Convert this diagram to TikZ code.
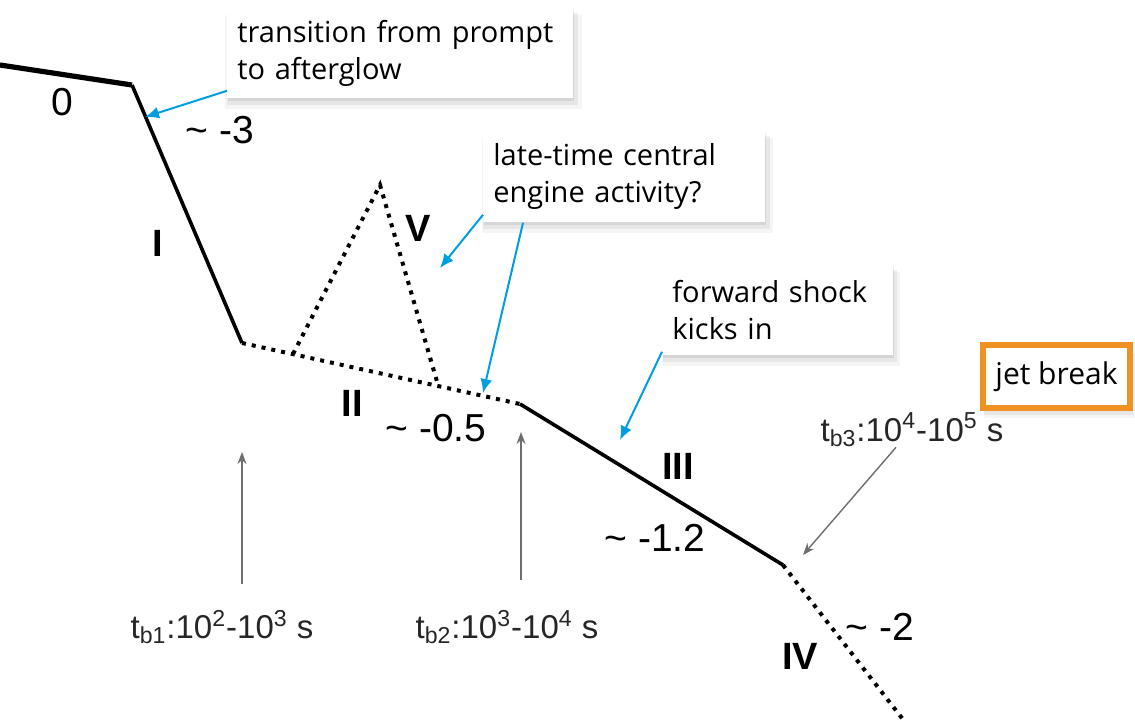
\documentclass[tikz,border=0pt]{standalone}
\usepackage{fontspec}
\setmainfont{Liberation Sans}
\newfontfamily\notefont{Open Sans}
\usepackage{tikz}
\usetikzlibrary{positioning,arrows.meta,shadows}
\definecolor{notecolor}{RGB}{0,158,224}
\definecolor{jetcolor}{RGB}{240,145,35}
\definecolor{tickcolor}{RGB}{110,110,110}
\tikzset{
  softshadow/.style={
    general shadow={fill=black, opacity=0.04, shadow xshift=1.5pt, shadow yshift=-4.5pt, shadow scale=1.03},
    general shadow={fill=black, opacity=0.06, shadow xshift=1pt, shadow yshift=-3pt, shadow scale=1.015},
    general shadow={fill=black, opacity=0.08, shadow xshift=0.5pt, shadow yshift=-1.5pt}},
  note/.style={fill=white, anchor=north west, align=left, inner xsep=5pt, inner ysep=0pt,
    font=\notefont\fontsize{14.5}{18.5}\selectfont, softshadow},
  jetnote/.style={draw=jetcolor, line width=3pt, fill=white, minimum width=73.5pt, minimum height=31.5pt,
    font=\notefont\fontsize{15}{18.5}\selectfont, softshadow},
  seg/.style={line width=1.8pt},
  segdot/.style={line width=2pt, dash pattern=on 2pt off 3pt},
  slope/.style={font=\fontsize{19.5}{21}\selectfont, inner sep=1pt},
  phase/.style={font=\fontsize{19}{21}\selectfont\bfseries, inner sep=1pt},
  tlbl/.style={font=\fontsize{16.5}{19}\selectfont, text=black!85, inner sep=1pt},
  tick/.style={-{Stealth[length=6pt,width=4.5pt]}, draw=tickcolor, line width=0.7pt},
  callout/.style={-{Latex[length=7pt,width=6pt]}, draw=notecolor, line width=1pt},
}

\begin{document}
\begin{tikzpicture}[x=0.5pt, y=-0.5pt]
\useasboundingbox (0,0) rectangle (1135,728);
% light curve break points
\coordinate (p0) at (0,65);
\coordinate (p1) at (132,85);
\coordinate (p2) at (242,343);
\coordinate (p3) at (520,404);
\coordinate (p4) at (783,565);
\coordinate (p5) at (905,722);
\coordinate (v0) at (293,354);
\coordinate (v1) at (380,185);
\coordinate (v2) at (438,385);

\draw[line width=2.6pt] (p0) -- (p1);
\draw[seg] (p1) -- (p2);
\draw[segdot] (p2) -- (p3);
\draw[seg] (p3) -- (p4);
\draw[segdot] (p4) -- (p5);
\draw[segdot] (v0) -- (v1) -- (v2);

\node[slope] (s0) at (62,102) {0};
\node[slope] (s1) at (220,130) {\textasciitilde\ -3};
\node[slope] (s2) at (436,428) {\textasciitilde\ -0.5};
\node[slope] (s3) at (655,538) {\textasciitilde\ -1.2};
\node[slope] (s4) at (880,627) {\textasciitilde\ -2};
\node[phase] (ph1) at (158,243) {I};
\node[phase] (ph2) at (352,403) {II};
\node[phase] (ph3) at (678,466) {III};
\node[phase] (ph4) at (800,656) {IV};
\node[phase] (ph5) at (418,228) {V};

% break times
\node[tlbl] (tb1) at (222,627) {t\textsubscript{b1}:10\textsuperscript{2}-10\textsuperscript{3} s};
\node[tlbl] (tb2) at (507,627) {t\textsubscript{b2}:10\textsuperscript{3}-10\textsuperscript{4} s};
\node[tlbl] (tb3) at (912,430) {t\textsubscript{b3}:10\textsuperscript{4}-10\textsuperscript{5} s};
\coordinate (tb1tip) at (242,452);
\coordinate (tb2tip) at (521,432);
\coordinate (tb3tip) at (803,555);
\draw[tick, shorten <=12pt] (tb1.north -| tb1tip) -- (tb1tip);
\draw[tick, shorten <=14pt] (tb2.north -| tb2tip) -- (tb2tip);
\draw[tick] ([xshift=-8pt,yshift=1pt]tb3.south) -- (tb3tip);

% callouts
\node[note, text width=163pt, minimum height=45.5pt] (prompt) at (227,7) {transition from prompt\\to afterglow};
\node[note, text width=131pt, minimum height=46pt] (engine) at (483,130) {late-time central\\engine activity?};
\node[note, text width=105.5pt, minimum height=45.5pt] (fwd) at (662,264) {forward shock\\kicks in};
\node[jetnote] (jet) at (1056.5,376.5) {jet break};

\coordinate (promptTip) at (145,117);
\coordinate (flareTip) at (440,268);
\coordinate (plateauTip) at (483,393);
\coordinate (fwdTip) at (620,440);
\draw[callout] ([yshift=4pt]prompt.south west) -- (promptTip);
\draw[callout] ([yshift=4pt]engine.south west) -- (flareTip);
\draw[callout] ([xshift=20pt]engine.south west) -- (plateauTip);
\draw[callout] ([yshift=2pt]fwd.south west) -- (fwdTip);
\end{tikzpicture}
\end{document}
